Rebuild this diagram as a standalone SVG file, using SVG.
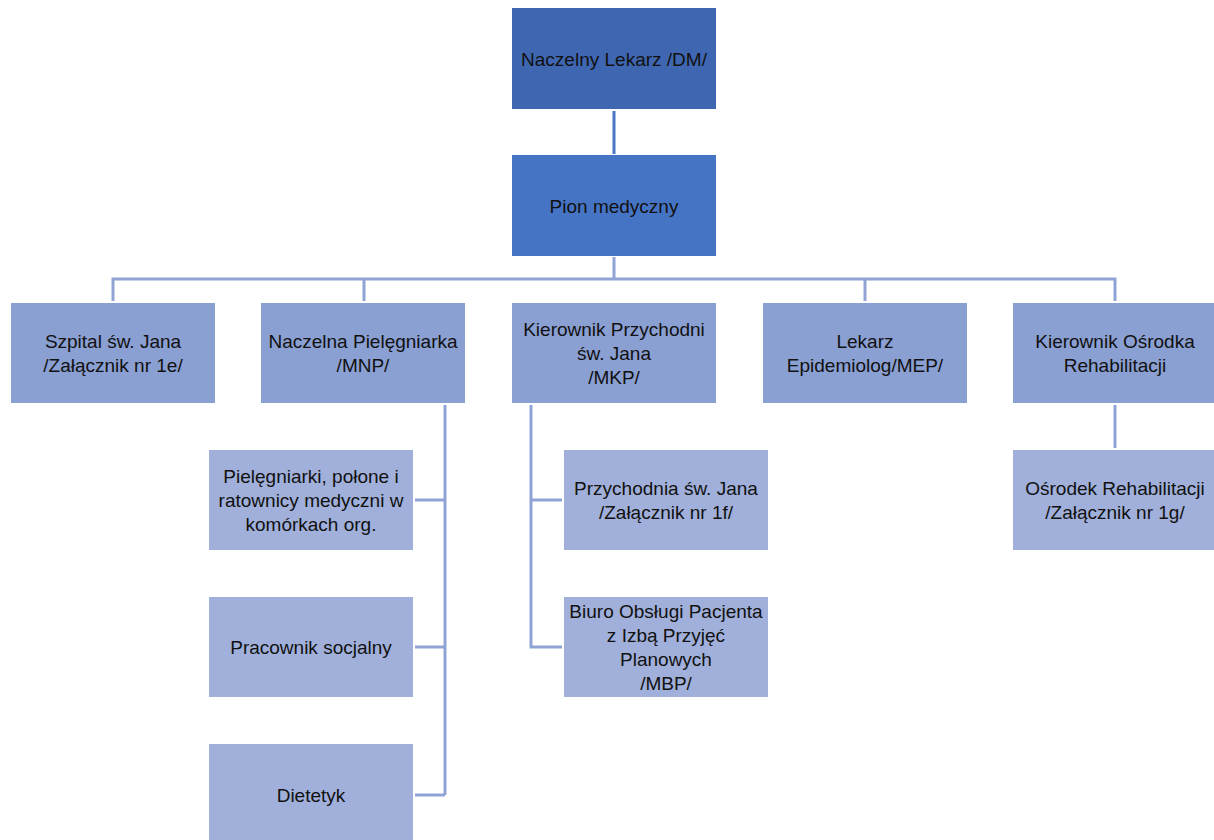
<svg xmlns="http://www.w3.org/2000/svg" width="1214" height="840" viewBox="0 0 1214 840">
<style>
.n0{fill:#3F67B1}
.n1{fill:#4674C5}
.n2{fill:#8A9FD2}
.n3{fill:#A0B0DA}
text{font-family:"Liberation Sans",Arial,sans-serif;font-size:19px;fill:#111;text-anchor:middle}
.c{stroke:#90A3D5;stroke-width:3;fill:none}
.ct{stroke:#4A76C6;stroke-width:3;fill:none}
</style>
<rect width="1214" height="840" fill="#fff"/>
<g id="connectors">
<line class="ct" x1="614" y1="111" x2="614" y2="154"/>
<path class="c" d="M614 257V279M113 301V279H1115V301M364 279V301M865 279V301"/>
<path class="c" d="M445 405V795M415 500H445M415 647H445M415 795H445"/>
<path class="c" d="M531 405V647H562M531 500H562"/>
<path class="c" d="M1115 405V448"/>
</g>
<g id="dm"><rect class="n0" x="512" y="8" width="204" height="101"/><text x="614" y="66">Naczelny Lekarz /DM/</text></g>
<g id="pion"><rect class="n1" x="512" y="155" width="204" height="101"/><text x="614" y="213">Pion medyczny</text></g>
<g id="szpital"><rect class="n2" x="11" y="303" width="204" height="100"/><text x="113" y="348">Szpital św. Jana</text><text x="113" y="372">/Załącznik nr 1e/</text></g>
<g id="mnp"><rect class="n2" x="261" y="303" width="204" height="100"/><text x="363" y="348">Naczelna Pielęgniarka</text><text x="363" y="372">/MNP/</text></g>
<g id="mkp"><rect class="n2" x="512" y="303" width="204" height="100"/><text x="614" y="336">Kierownik Przychodni</text><text x="614" y="360">św. Jana</text><text x="614" y="384">/MKP/</text></g>
<g id="mep"><rect class="n2" x="763" y="303" width="204" height="100"/><text x="865" y="348">Lekarz</text><text x="865" y="372">Epidemiolog/MEP/</text></g>
<g id="kor"><rect class="n2" x="1013" y="303" width="204" height="100"/><text x="1115" y="348">Kierownik Ośrodka</text><text x="1115" y="372">Rehabilitacji</text></g>
<g id="piel"><rect class="n3" x="209" y="450" width="204" height="100"/><text x="311" y="483">Pielęgniarki, połone i</text><text x="311" y="507">ratownicy medyczni w</text><text x="311" y="531">komórkach org.</text></g>
<g id="socj"><rect class="n3" x="209" y="597" width="204" height="100"/><text x="311" y="654">Pracownik socjalny</text></g>
<g id="diet"><rect class="n3" x="209" y="744" width="204" height="100"/><text x="311" y="802">Dietetyk</text></g>
<g id="przych"><rect class="n3" x="564" y="450" width="204" height="100"/><text x="666" y="495">Przychodnia św. Jana</text><text x="666" y="519">/Załącznik nr 1f/</text></g>
<g id="mbp"><rect class="n3" x="564" y="597" width="204" height="100"/><text x="666" y="618">Biuro Obsługi Pacjenta</text><text x="666" y="642">z Izbą Przyjęć</text><text x="666" y="666">Planowych</text><text x="666" y="690">/MBP/</text></g>
<g id="osrodek"><rect class="n3" x="1013" y="450" width="204" height="100"/><text x="1115" y="495">Ośrodek Rehabilitacji</text><text x="1115" y="519">/Załącznik nr 1g/</text></g>
</svg>
